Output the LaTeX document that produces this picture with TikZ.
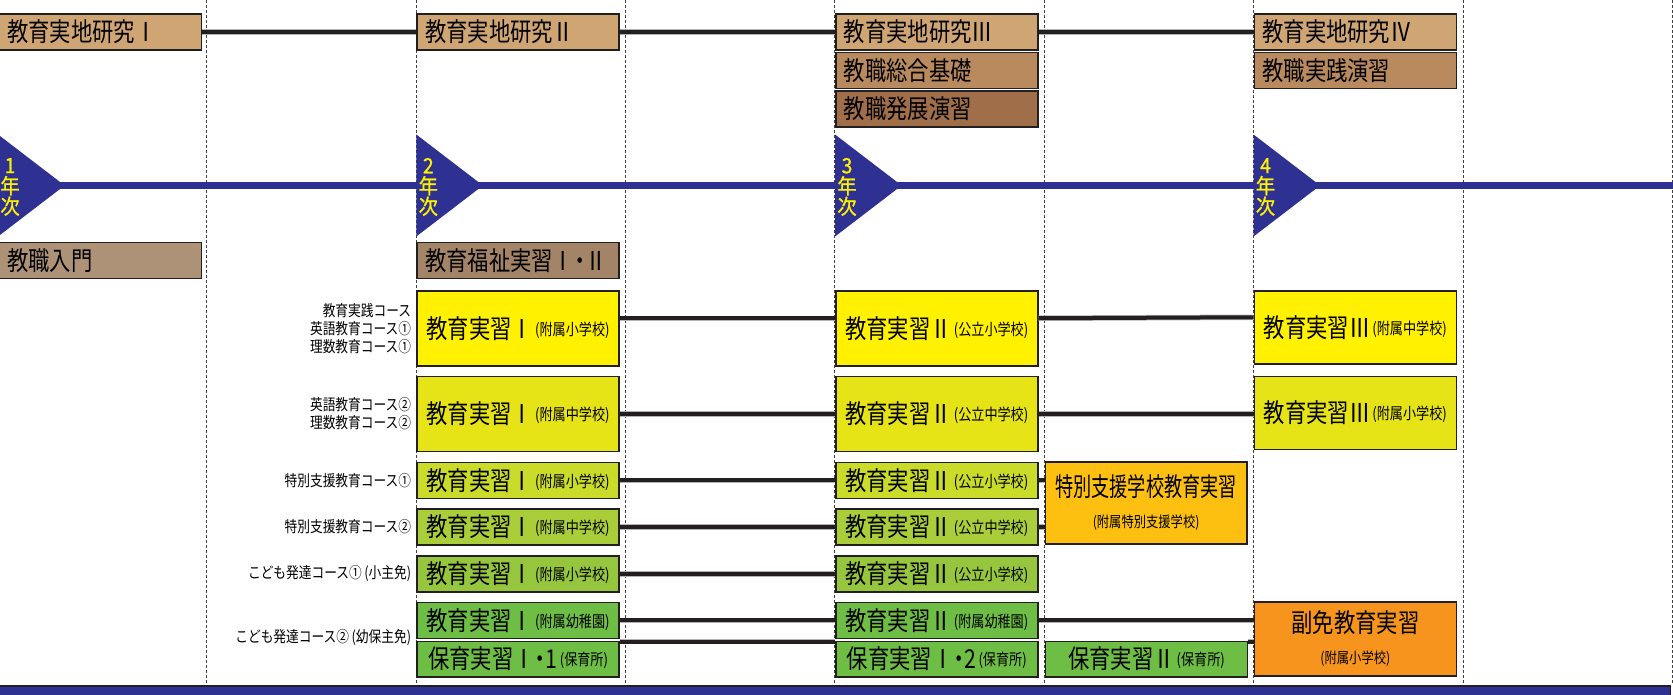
\documentclass[tikz,border=0pt]{standalone}
\usepackage{fontspec}
\newfontfamily\jp[FakeStretch=0.82]{Noto Sans CJK JP}
\newfontfamily\jpyear[FakeStretch=0.92, FakeBold=0.8]{Noto Sans CJK JP}
\usetikzlibrary{calc}

\definecolor{nightblue}{RGB}{46,49,146}
\definecolor{ink}{RGB}{35,31,32}
\definecolor{tanA}{RGB}{207,165,116}
\definecolor{tanB}{RGB}{185,138,94}
\definecolor{tanC}{RGB}{160,110,72}
\definecolor{taupeA}{RGB}{173,146,119}
\definecolor{taupeB}{RGB}{163,132,102}
\definecolor{yelA}{RGB}{255,241,0}
\definecolor{yelB}{RGB}{230,228,22}
\definecolor{limeA}{RGB}{203,219,42}
\definecolor{limeB}{RGB}{170,205,58}
\definecolor{limeC}{RGB}{150,198,61}
\definecolor{leaf}{RGB}{110,190,69}
\definecolor{amber}{RGB}{253,192,16}
\definecolor{tangerine}{RGB}{247,148,29}
\definecolor{yeartext}{RGB}{255,242,0}

\newcommand{\bigjp}{\fontsize{26}{28}\selectfont}
\newcommand{\smalljp}{\fontsize{16}{17}\selectfont}
\newcommand{\school}[1]{\hspace{2pt}\raisebox{3pt}{\smalljp #1}}
\newcommand{\jpdot}{\kern-5pt・\kern-5pt}

\begin{document}
\begin{tikzpicture}[x=1pt, y=-1pt, font=\jp,
  box/.style={rectangle, draw=ink, line width=1.5pt, inner sep=0pt, anchor=north west,
    minimum width=202pt, minimum height=36pt, font=\jp\bigjp},
  subject/.style={box, text width=186pt, align=left, inner xsep=8pt},
  practice/.style={box, align=center},
  course/.style={anchor=east, align=right, inner sep=0pt, font=\jp\fontsize{15.5}{18}\selectfont},
  yearlbl/.style={text=yeartext, align=center, inner sep=0pt, font=\jpyear\fontsize{21}{20.5}\selectfont},
  link/.style={draw=ink, line width=4pt, preaction={draw=black!30, line width=5.5pt}},
  guide/.style={draw=black!75, line width=0.8pt, dash pattern=on 3pt off 2pt}]
\useasboundingbox (0,0) rectangle (1673,695);
%\draw (0,0) rectangle (1673,695);

\foreach \gx in {206.5,415.9,625.3,834.7,1044.1,1253.5,1462.9,1672.3}
  \draw[guide] (\gx,0) -- (\gx,684);

\coordinate (c1) at (-1.5,0);
\coordinate (c2) at (416.3,0);
\coordinate (c3) at (835,0);
\coordinate (c3h) at (1044.7,0);
\coordinate (c4) at (1253.6,0);

\coordinate (rA) at (0,13.3);
\coordinate (rA2) at (0,51.7);
\coordinate (rA3) at (0,90.3);
\coordinate (rM) at (0,241.7);
\coordinate (rB1) at (0,290);
\coordinate (rB2) at (0,375.7);
\coordinate (rC1) at (0,461.7);
\coordinate (rC2) at (0,508);
\coordinate (rD) at (0,555);
\coordinate (rE) at (0,601.7);
\coordinate (rF) at (0,640.7);

% time line
\coordinate (tlwest) at (0,185.5);
\coordinate (tleast) at (1673,185.5);
\draw[line width=7.5pt, nightblue] (tlwest) -- (tleast);

\foreach \yx/\yn in {-2/1, 416.3/2, 835/3, 1253.5/4} {
  \fill[nightblue] (\yx,134.5) -- ++(66.6,51) -- ++(-66.6,51) -- cycle;
  \node (year\yn) [yearlbl] at (\yx+12,187) {\yn\\年\\次};
}

\node (jissa1) [subject, fill=tanA] at (c1 |- rA) {教育実地研究Ⅰ};
\node (jissa2) [subject, fill=tanA] at (c2 |- rA) {教育実地研究Ⅱ};
\node (jissa3) [subject, fill=tanA] at (c3 |- rA) {教育実地研究Ⅲ};
\node (jissa4) [subject, fill=tanA] at (c4 |- rA) {教育実地研究Ⅳ};
\node (sogo) [subject, fill=tanB] at (c3 |- rA2) {教職総合基礎};
\node (hatten) [subject, fill=tanC] at (c3 |- rA3) {教職発展演習};
\node (jissen) [subject, fill=tanB] at (c4 |- rA2) {教職実践演習};
\node (nyumon) [subject, fill=taupeA] at (c1 |- rM) {教職入門};
\node (fukushi) [subject, fill=taupeB] at (c2 |- rM) {教育福祉実習Ⅰ\jpdot Ⅱ};

\node (b1a) [practice, fill=yelA, minimum height=75pt] at (c2 |- rB1) {教育実習Ⅰ\school{(附属小学校)}};
\node (b1b) [practice, fill=yelA, minimum height=75pt] at (c3 |- rB1) {教育実習Ⅱ\school{(公立小学校)}};
\node (b1c) [practice, fill=yelA, minimum height=73pt] at (c4 |- rB1) {教育実習Ⅲ\school{(附属中学校)}};
\node (b2a) [practice, fill=yelB, minimum height=75pt] at (c2 |- rB2) {教育実習Ⅰ\school{(附属中学校)}};
\node (b2b) [practice, fill=yelB, minimum height=75pt] at (c3 |- rB2) {教育実習Ⅱ\school{(公立中学校)}};
\node (b2c) [practice, fill=yelB, minimum height=73pt] at (c4 |- rB2) {教育実習Ⅲ\school{(附属小学校)}};

\node (c1a) [practice, fill=limeA] at (c2 |- rC1) {教育実習Ⅰ\school{(附属小学校)}};
\node (c1b) [practice, fill=limeA] at (c3 |- rC1) {教育実習Ⅱ\school{(公立小学校)}};
\node (c2a) [practice, fill=limeB] at (c2 |- rC2) {教育実習Ⅰ\school{(附属中学校)}};
\node (c2b) [practice, fill=limeB] at (c3 |- rC2) {教育実習Ⅱ\school{(公立中学校)}};
\node (sp) [practice, fill=amber, minimum width=201.3pt, minimum height=82pt] at ($(c3h |- rC1)+(0,-0.7)$)
  {\scalebox{0.85}[1]{特別支援学校教育実習}\\[3pt]{\fontsize{15}{16}\selectfont(附属特別支援学校)}};

\node (d1) [practice, fill=limeC] at (c2 |- rD) {教育実習Ⅰ\school{(附属小学校)}};
\node (d2) [practice, fill=limeC] at (c3 |- rD) {教育実習Ⅱ\school{(公立小学校)}};

\node (e1) [practice, fill=leaf] at (c2 |- rE) {教育実習Ⅰ\school{(附属幼稚園)}};
\node (e2) [practice, fill=leaf] at (c3 |- rE) {教育実習Ⅱ\school{(附属幼稚園)}};
\node (f1) [practice, fill=leaf, minimum height=35.3pt] at (c2 |- rF) {保育実習Ⅰ\jpdot 1\school{(保育所)}};
\node (f2) [practice, fill=leaf, minimum height=35.3pt] at (c3 |- rF) {保育実習Ⅰ\jpdot 2\school{(保育所)}};
\node (f3) [practice, fill=leaf, minimum height=35.3pt] at (c3h |- rF) {保育実習Ⅱ\school{(保育所)}};
\node (fukumen) [practice, fill=tangerine, minimum height=74.3pt] at ($(c4 |- rE)+(0,-0.7)$)
  {副免教育実習\\[3pt]{\fontsize{15}{16}\selectfont(附属小学校)}};

% course names
\node (kB1) [course] at ($(b1a.west)+(-5,0)$) {教育実践コース\\英語教育コース①\\理数教育コース①};
\node (kB2) [course] at ($(b2a.west)+(-5,0)$) {英語教育コース②\\理数教育コース②};
\node (kC1) [course] at ($(c1a.west)+(-5,0)$) {特別支援教育コース①};
\node (kC2) [course] at ($(c2a.west)+(-5,0)$) {特別支援教育コース②};
\node (kD) [course] at ($(d1.west)+(-5,0)$) {こども発達コース①\,(小主免)};
\node (kEF) [course] at ($(e1.south west)!0.5!(f1.north west)+(-5,-2)$) {こども発達コース②\,(幼保主免)};

% links
\draw[link] (jissa1) -- (jissa2);
\draw[link] (jissa2) -- (jissa3);
\draw[link] (jissa3) -- (jissa4);
\draw[link] ([yshift=10pt]b1a.east) -- ([yshift=10pt]b1b.west);
\draw[link] ([yshift=10pt]b1b.east) -- ([yshift=10pt]b1c.west);
\draw[link] (b2a) -- (b2b);
\draw[link] (b2b.east) -- (b2b.east -| b2c.west);
\draw[link] (c1a) -- (c1b);
\draw[link] (c1b.east) -- (c1b.east -| sp.west);
\draw[link] (c2a) -- (c2b);
\draw[link] (c2b.east) -- (c2b.east -| sp.west);
\draw[link] (d1) -- (d2);
\draw[link] (e1) -- (e2);
\draw[link] (e2.east) -- (e2.east -| fukumen.west);
\draw[link] ($(f1.north east)+(0,1)$) -- ($(f2.north west)+(0,1)$);
\draw[link] ($(f3.north east)+(0,1)$) -- ($(f3.north east -| fukumen.west)+(0,1)$);

\draw[fill=nightblue, draw=ink, line width=1.5pt] (-5,686) rectangle (1670.5,705);

\end{tikzpicture}
\end{document}
